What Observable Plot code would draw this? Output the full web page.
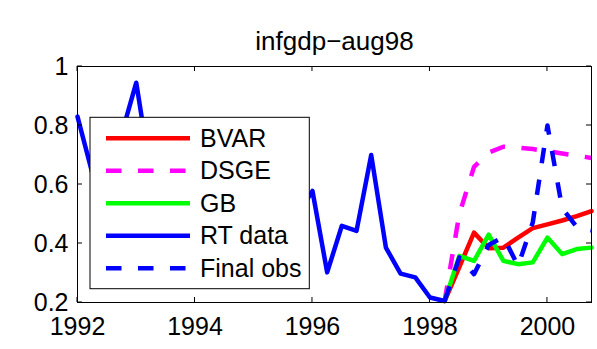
<!DOCTYPE html>
<html>
<head>
<meta charset="utf-8">
<script src="https://cdn.jsdelivr.net/npm/d3@7"></script>
<script src="https://cdn.jsdelivr.net/npm/@observablehq/plot@0.6"></script>
<style>
  html, body { margin: 0; padding: 0; background: white; }
</style>
</head>
<body>
<div id="chart"></div>
<script>
// ---- Data ----
const titleText = "infgdp\u2212aug98";

const rtDates = [1992.0, 1992.25, 1992.5, 1992.75, 1993.0, 1993.25, 1993.5, 1993.75,
  1994.0, 1994.25, 1994.5, 1994.75, 1995.0, 1995.25, 1995.5, 1995.75,
  1996.0, 1996.25, 1996.5, 1996.75, 1997.0, 1997.25, 1997.5, 1997.75, 1998.0, 1998.25];
const rtValues = [0.83, 0.64, 0.60, 0.77, 0.945, 0.63, 0.58, 0.62,
  0.55, 0.60, 0.50, 0.58, 0.65, 0.56, 0.52, 0.50,
  0.578, 0.302, 0.46, 0.443, 0.70, 0.386, 0.298, 0.285, 0.217, 0.205];

const fcDates = [1998.25, 1998.5, 1998.75, 1999.0, 1999.25, 1999.5, 1999.75, 2000.0, 2000.25, 2000.5, 2000.75];
const bvarValues  = [0.205, 0.32, 0.437, 0.384, 0.386, 0.42, 0.452, 0.465, 0.478, 0.493, 0.51];
const dsgeValues  = [0.205, 0.50, 0.66, 0.708, 0.728, 0.725, 0.72, 0.713, 0.705, 0.698, 0.69];
const gbValues    = [0.205, 0.358, 0.341, 0.43, 0.341, 0.33, 0.336, 0.42, 0.364, 0.381, 0.386];
const finalValues = [0.205, 0.353, 0.296, 0.395, 0.422, 0.324, 0.471, 0.80, 0.52, 0.456, 0.445];

const xTicks = [1992, 1994, 1996, 1998, 2000];
const yTicks = [0.2, 0.4, 0.6, 0.8, 1];

const seriesNames = ["BVAR", "DSGE", "GB", "RT data", "Final obs"];
const seriesColors = ["#ff0000", "#ff00ff", "#00ff00", "#0000ff", "#0000ff"];
const seriesDashed = [false, true, false, false, true];

// ---- Build tables ----
const toRows = (dates, vals) => dates.map((d, i) => ({date: d, value: vals[i]}));
const rtData = toRows(rtDates, rtValues);
const bvarData = toRows(fcDates, bvarValues);
const dsgeData = toRows(fcDates, dsgeValues);
const gbData = toRows(fcDates, gbValues);
const finalData = toRows(fcDates, finalValues);

const LW = 4.5;
const DASH = "15.5,16.5";
const FONT = "'Liberation Sans', Arial, Helvetica, sans-serif";

const chart = Plot.plot({
  width: 597,
  height: 349,
  marginTop: 66,
  marginBottom: 47,
  marginLeft: 77,
  marginRight: 6,
  style: {fontFamily: FONT, fontSize: "25px", background: "white", color: "black"},
  x: {domain: [1992, 2000.75]},
  y: {domain: [0.2, 1]},
  marks: [
    Plot.line(bvarData, {x: "date", y: "value", stroke: seriesColors[0], strokeWidth: LW, strokeLinejoin: "round"}),
    Plot.line(dsgeData, {x: "date", y: "value", stroke: seriesColors[1], strokeWidth: LW, strokeDasharray: DASH, strokeLinecap: "butt"}),
    Plot.line(gbData, {x: "date", y: "value", stroke: seriesColors[2], strokeWidth: LW, strokeLinejoin: "round"}),
    Plot.line(rtData, {x: "date", y: "value", stroke: seriesColors[3], strokeWidth: LW, strokeLinejoin: "round"}),
    Plot.line(finalData, {x: "date", y: "value", stroke: seriesColors[4], strokeWidth: LW, strokeDasharray: DASH, strokeLinecap: "butt"}),
    Plot.frame({stroke: "black", strokeWidth: 1}),
    // tick labels
    Plot.axisX({anchor: "bottom", ticks: xTicks, tickSize: 0, tickPadding: 15, tickFormat: d => String(d), label: null, fontSize: 25}),
    Plot.axisY({anchor: "left", ticks: yTicks, tickSize: 0, tickPadding: 9, tickFormat: d => String(d), label: null, fontSize: 25}),
    // title
    Plot.text([titleText], {frameAnchor: "top", text: d => d, lineAnchor: "bottom", dy: -16.5, fontSize: 26})
  ]
});

document.getElementById("chart").appendChild(chart);

const svg = d3.select(chart);
const sx = chart.scale("x"), sy = chart.scale("y");
const [x0, x1] = sx.range, yBot = sy.range[0], yTop = sy.range[1];
const TL = 5;

// ---- Inward ticks on all four sides ----
const tg = svg.append("g").attr("stroke", "black").attr("stroke-width", 1).attr("fill", "none");
xTicks.forEach(t => {
  const px = sx.apply(t);
  tg.append("line").attr("x1", px).attr("x2", px).attr("y1", yBot).attr("y2", yBot - TL);
  tg.append("line").attr("x1", px).attr("x2", px).attr("y1", yTop).attr("y2", yTop + TL);
});
yTicks.forEach(t => {
  const py = sy.apply(t);
  tg.append("line").attr("x1", x0).attr("x2", x0 + TL).attr("y1", py).attr("y2", py);
  tg.append("line").attr("x1", x1).attr("x2", x1 - TL).attr("y1", py).attr("y2", py);
});

// ---- Legend ----
const lg = svg.append("g").attr("class", "legend");
lg.append("rect")
  .attr("x", 90).attr("y", 117.3)
  .attr("width", 219.3).attr("height", 171.4)
  .attr("fill", "white").attr("stroke", "black").attr("stroke-width", 1);
const rowY = [138.3, 170.7, 203.3, 235.7, 268.3];
seriesNames.forEach((name, i) => {
  const ln = lg.append("line")
    .attr("x1", 106).attr("x2", 190)
    .attr("y1", rowY[i]).attr("y2", rowY[i])
    .attr("stroke", seriesColors[i])
    .attr("stroke-width", LW);
  if (seriesDashed[i]) ln.attr("stroke-dasharray", DASH);
  lg.append("text")
    .attr("x", 200).attr("y", rowY[i]).attr("dy", "0.35em")
    .attr("text-anchor", "start")
    .attr("font-family", FONT).attr("font-size", 25)
    .attr("fill", "black")
    .text(name);
});
</script>
</body>
</html>
